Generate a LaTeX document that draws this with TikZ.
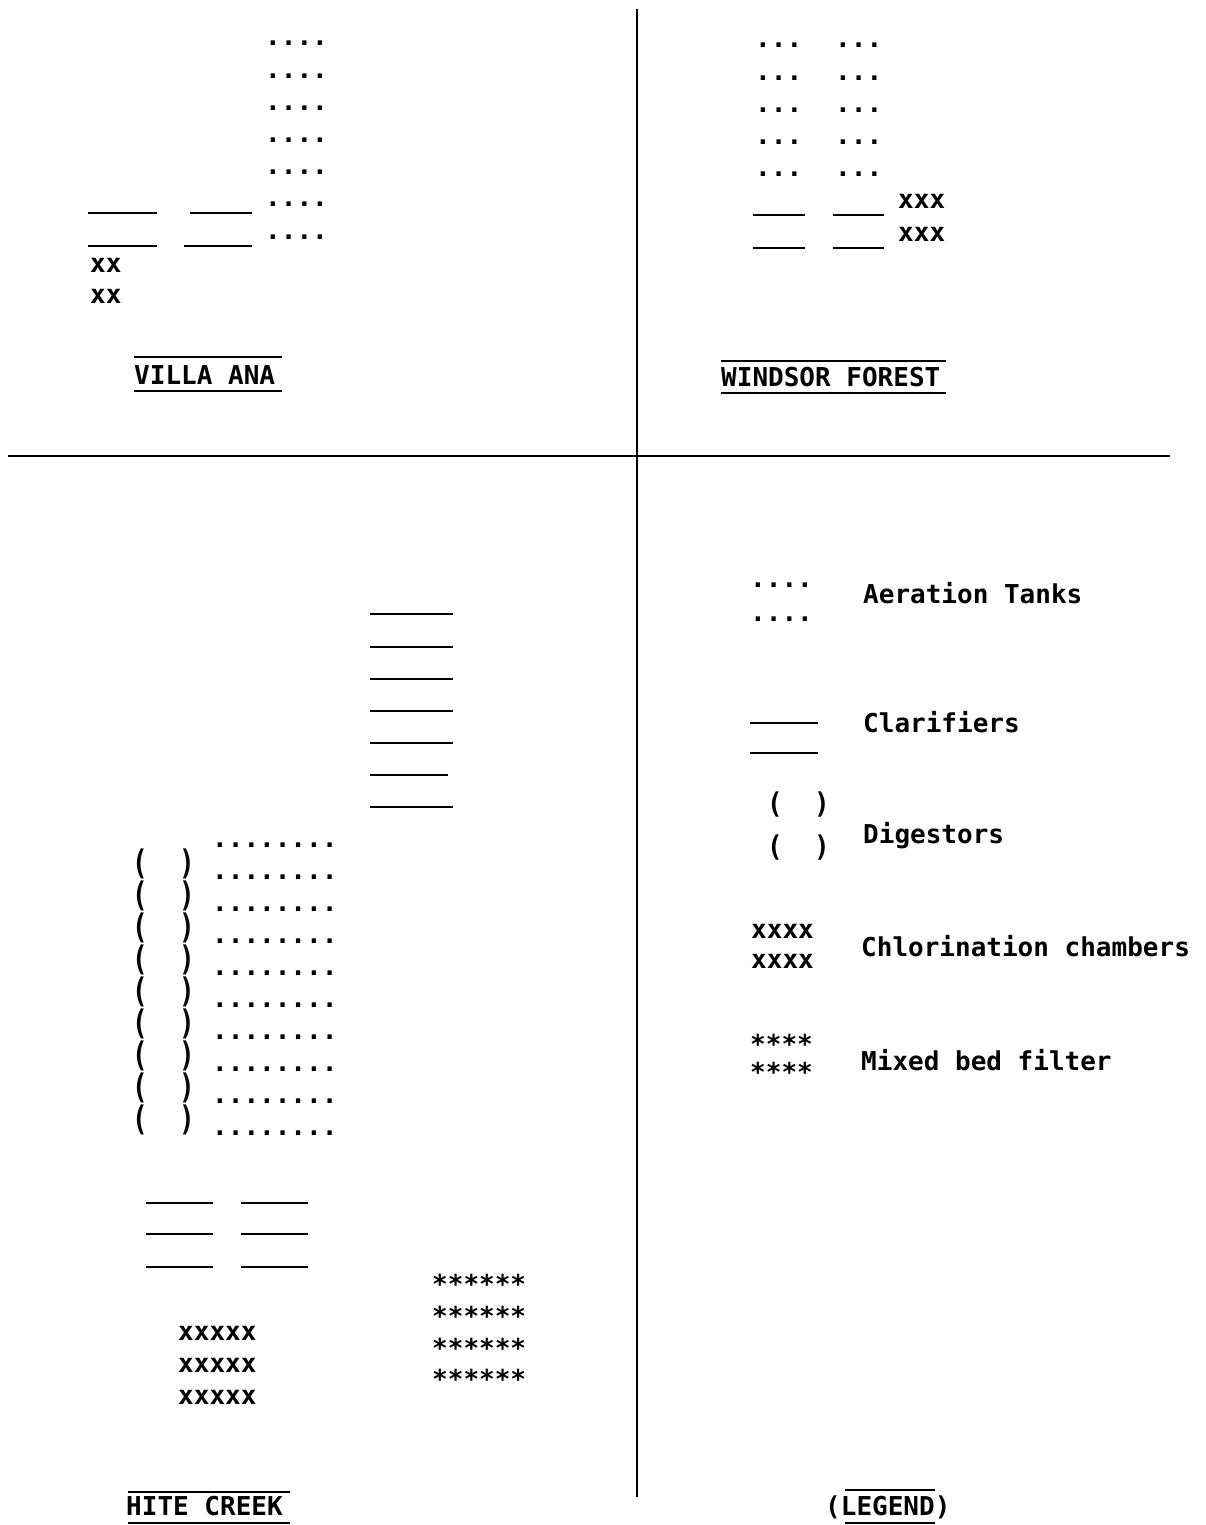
\documentclass[tikz,border=0pt]{standalone}
\usepackage{fontspec}
\usepackage{graphicx}
\newfontfamily\tw{DejaVu Sans Mono}
\tikzset{
  tw/.style={font=\tw\bfseries\fontsize{26}{30}\selectfont, inner sep=0pt, anchor=base west},
  twb/.style={tw},
  clar/.style={line width=2.4pt},
  frame/.style={line width=2pt},
  uline/.style={line width=2pt}
}
\begin{document}
\begin{tikzpicture}[x=1pt,y=-1pt]
\useasboundingbox (0,0) rectangle (1205,1525);
% frame lines
\draw[frame] (637,9) -- (637,1497);
\draw[frame] (8,456) -- (1170,456);

% ---------------- VILLA ANA ----------------
\foreach \i in {0,...,6}
  \node[tw] (vadot\i) at (265,{46+32.2*\i}) {....};
\draw[clar] (88,213) -- (157,213);
\draw[clar] (88,246) -- (157,246);
\draw[clar] (190,213) -- (252,213);
\draw[clar] (184,246) -- (252,246);
\node[tw] (vax1) at (90,272) {xx};
\node[tw] (vax2) at (90,303) {xx};
\node[tw] (valab) at (134,384) {VILLA ANA};
\draw[uline] (134,357) -- (282,357);
\draw[uline] (134,391) -- (282,391);

% ---------------- WINDSOR FOREST ----------------
\foreach \i in {0,...,4}{
  \node[tw] (wfdotA\i) at (755,{48+32.2*\i}) {...};
  \node[tw] (wfdotB\i) at (835,{48+32.2*\i}) {...};
}
\draw[clar] (753,215) -- (805,215);
\draw[clar] (753,248) -- (805,248);
\draw[clar] (833,215) -- (884,215);
\draw[clar] (833,248) -- (884,248);
\node[tw] (wfx1) at (898,208) {xxx};
\node[tw] (wfx2) at (898,241) {xxx};
\node[tw] (wflab) at (721,386) {WINDSOR FOREST};
\draw[uline] (721,361) -- (946,361);
\draw[uline] (721,393) -- (946,393);

% ---------------- HITE CREEK ----------------
\foreach \y in {614,647,679,711,743,807}
  \draw[clar] (370,\y) -- (453,\y);
\draw[clar] (370,775) -- (448,775);
\foreach \i in {0,...,8}
  \node[tw] (hcpar\i) at (132,{874+32.1*\i}) {\scalebox{1}[1.3]{(~~)}};
\foreach \i in {0,...,9}
  \node[tw] (hcdot\i) at (212,{847+32.1*\i}) {........};
\foreach \y in {1203,1234,1267}{
  \draw[clar] (146,\y) -- (213,\y);
  \draw[clar] (241,\y) -- (308,\y);
}
\node[tw] (hcx1) at (178,1340) {xxxxx};
\node[tw] (hcx2) at (178,1372) {xxxxx};
\node[tw] (hcx3) at (178,1404) {xxxxx};
\node[twb] (hcs1) at (432,1293) {******};
\node[twb] (hcs2) at (432,1325) {******};
\node[twb] (hcs3) at (432,1357) {******};
\node[twb] (hcs4) at (432,1388) {******};
\node[tw] (hclab) at (126,1515) {HITE CREEK};
\draw[uline] (128,1492) -- (290,1492);
\draw[uline] (128,1523) -- (290,1523);

% ---------------- LEGEND ----------------
\node[tw] (ldot1) at (750,587) {....};
\node[tw] (ldot2) at (750,621) {....};
\node[tw] (laer) at (863,603) {Aeration Tanks};
\draw[clar] (750,723) -- (818,723);
\draw[clar] (750,753) -- (818,753);
\node[tw] (lcla) at (863,732) {Clarifiers};
\node[tw] (lpar1) at (767,813) {\scalebox{1}[1.1]{(~~)}};
\node[tw] (lpar2) at (767,856) {\scalebox{1}[1.1]{(~~)}};
\node[tw] (ldig) at (863,843) {Digestors};
\node[tw] (lx1) at (751,938) {xxxx};
\node[tw] (lx2) at (751,968) {xxxx};
\node[tw] (lchl) at (861,956) {Chlorination chambers};
\node[twb] (ls1) at (750,1053) {****};
\node[twb] (ls2) at (750,1081) {****};
\node[tw] (lmix) at (861,1070) {Mixed bed filter};
\node[tw] (llab) at (825,1515) {(LEGEND)};
\draw[uline] (845,1490) -- (935,1490);
\draw[uline] (845,1523) -- (935,1523);
\end{tikzpicture}
\end{document}
